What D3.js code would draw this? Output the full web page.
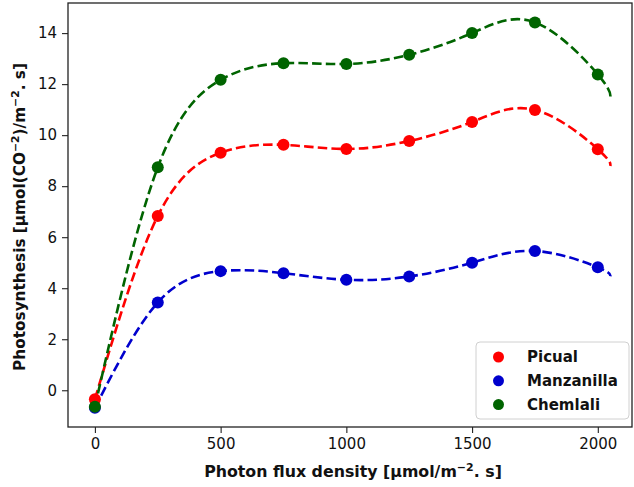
<!DOCTYPE html>
<html>
<head>
<meta charset="utf-8">
<script src="https://cdn.jsdelivr.net/npm/d3@7"></script>
<style>
  body { margin: 0; background: #fff; }
  text { font-family: "DejaVu Sans", sans-serif; }
</style>
</head>
<body>
<div id="chart"></div>
<script>
// data
var xValues = [0, 250, 500, 750, 1000, 1250, 1500, 1750, 2000];
var picual = [-0.35, 6.83, 9.31, 9.62, 9.46, 9.77, 10.52, 10.99, 9.45];
var manzanilla = [-0.69, 3.44, 4.67, 4.59, 4.33, 4.46, 5.0, 5.46, 4.82];
var chemlali = [-0.65, 8.74, 12.17, 12.82, 12.79, 13.15, 14.0, 14.42, 12.38];
// where the dashed fit lines stop
var fitEndX = 2050;
var fitEnd = { Picual: 8.79, Manzanilla: 4.47, Chemlali: 11.46 };
var seriesNames = ["Picual", "Manzanilla", "Chemlali"];
var seriesColors = ["red", "mediumblue", "darkgreen"];
var xTicks = [0, 500, 1000, 1500, 2000];
var yTicks = [0, 2, 4, 6, 8, 10, 12, 14];

var W = 634, H = 487;
var margin = { top: 3, right: 2, bottom: 60, left: 68 };
var width = W - margin.left - margin.right;
var height = H - margin.top - margin.bottom;

var svg = d3.select("#chart").append("svg")
    .attr("width", W)
    .attr("height", H);

var g = svg.append("g")
    .attr("transform", "translate(" + margin.left + "," + margin.top + ")");

var x = d3.scaleLinear().domain([-107, 2136]).range([0, width]);
var y = d3.scaleLinear().domain([-1.44, 15.18]).range([height, 0]);

var allSeries = [picual, manzanilla, chemlali];

var line = d3.line()
    .x(function (d) { return x(d[0]); })
    .y(function (d) { return y(d[1]); })
    .curve(d3.curveNatural);

allSeries.forEach(function (vals, i) {
    var pts = xValues.map(function (xv, j) { return [xv, vals[j]]; });
    pts.push([fitEndX, fitEnd[seriesNames[i]]]);
    g.append("path")
        .datum(pts)
        .attr("fill", "none")
        .attr("stroke", seriesColors[i])
        .attr("stroke-width", 2.6)
        .attr("stroke-dasharray", "9.5,4.2")
        .attr("d", line);
});

allSeries.forEach(function (vals, i) {
    g.selectAll(null)
        .data(vals)
        .enter().append("circle")
        .attr("cx", function (d, j) { return x(xValues[j]); })
        .attr("cy", function (d) { return y(d); })
        .attr("r", 6)
        .attr("fill", seriesColors[i]);
});

// axes
var xAxis = g.append("g")
    .attr("transform", "translate(0," + height + ")")
    .call(d3.axisBottom(x).tickValues(xTicks).tickFormat(d3.format("d")).tickSize(6).tickPadding(5));
var yAxis = g.append("g")
    .call(d3.axisLeft(y).tickValues(yTicks).tickFormat(d3.format("d")).tickSize(6).tickPadding(5));

[xAxis, yAxis].forEach(function (ax) {
    ax.select(".domain").remove();
    ax.selectAll(".tick line").attr("stroke", "#222").attr("stroke-width", 1.1);
    ax.selectAll(".tick text")
        .attr("fill", "#111")
        .style("font-family", "DejaVu Sans")
        .style("font-size", "15px");
});

g.append("rect")
    .attr("width", width)
    .attr("height", height)
    .attr("fill", "none")
    .attr("stroke", "#222")
    .attr("stroke-width", 1.3);

// axis labels
var xLabel = svg.append("text")
    .attr("x", margin.left + width / 2 + 3)
    .attr("y", 477)
    .attr("text-anchor", "middle")
    .style("font-weight", "bold")
    .style("font-size", "15.8px")
    .attr("fill", "#111");
xLabel.append("tspan").text("Photon flux density [μmol/m");
xLabel.append("tspan").attr("dy", -6).style("font-size", "11px").text("−2");
xLabel.append("tspan").attr("dy", 6).text(". s]");

var yLabel = svg.append("text")
    .attr("transform", "translate(25," + (margin.top + height / 2 + 2) + ") rotate(-90)")
    .attr("text-anchor", "middle")
    .style("font-weight", "bold")
    .style("font-size", "15.3px")
    .attr("fill", "#111");
yLabel.append("tspan").text("Photosynthesis [μmol(CO");
yLabel.append("tspan").attr("dy", -6).style("font-size", "10.8px").text("−2");
yLabel.append("tspan").attr("dy", 6).text(")/m");
yLabel.append("tspan").attr("dy", -6).style("font-size", "10.8px").text("−2");
yLabel.append("tspan").attr("dy", 6).text(". s]");

// legend
var legend = svg.append("g").attr("transform", "translate(476,342)");
legend.append("rect")
    .attr("width", 153)
    .attr("height", 77)
    .attr("rx", 4)
    .attr("fill", "#fff")
    .attr("fill-opacity", 0.85)
    .attr("stroke", "#d0d0d0");
var items = legend.selectAll("g.item")
    .data(seriesNames)
    .enter().append("g")
    .attr("class", "item")
    .attr("transform", function (d, i) { return "translate(0," + (15 + i * 23.8) + ")"; });
items.append("circle")
    .attr("cx", 22.5)
    .attr("r", 5.5)
    .attr("fill", function (d, i) { return seriesColors[i]; });
items.append("text")
    .attr("x", 51)
    .attr("dy", "0.35em")
    .style("font-weight", "bold")
    .style("font-size", "15px")
    .attr("fill", "#111")
    .text(function (d) { return d; });
</script>
</body>
</html>
